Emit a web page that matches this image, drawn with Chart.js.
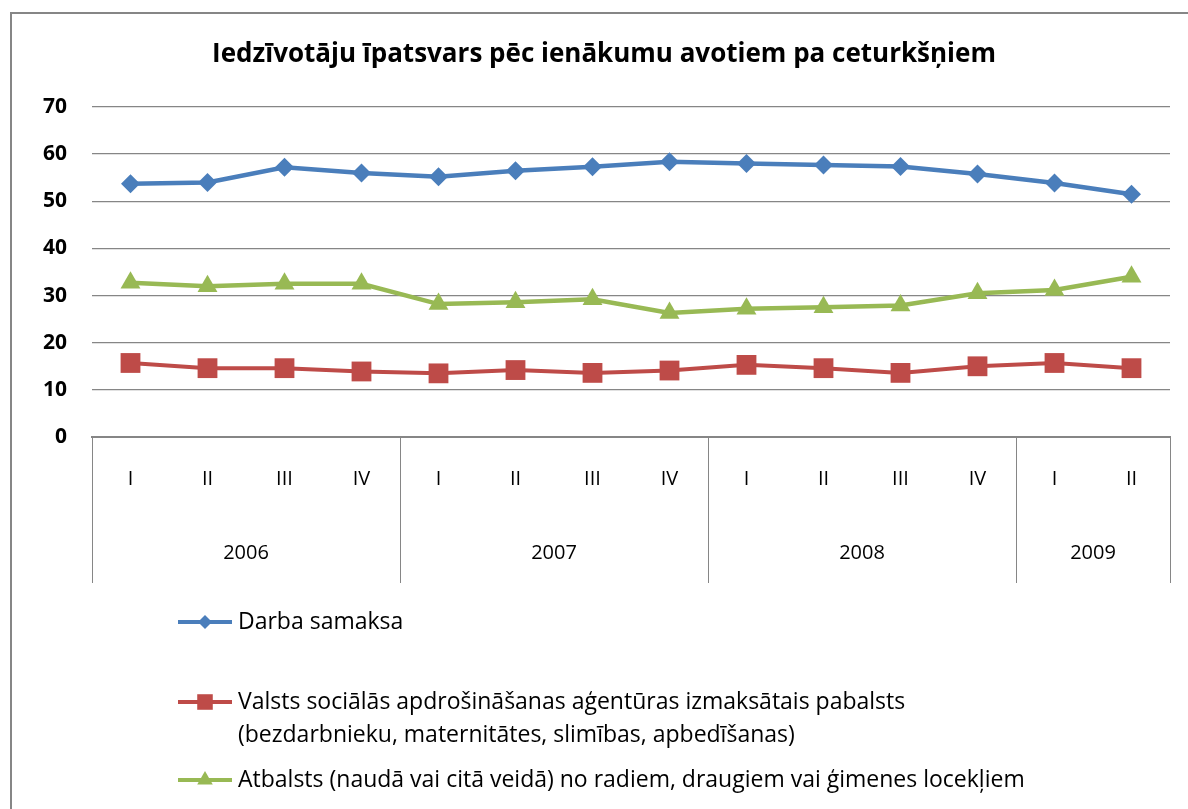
<!DOCTYPE html>
<html>
<head>
<meta charset="utf-8">
<script src="https://cdn.jsdelivr.net/npm/chart.js@4/dist/chart.umd.min.js"></script>
<style>
  body { margin: 0; background: #fff; overflow: hidden; }
  #wrap { width: 1188px; height: 809px; }
</style>
</head>
<body>
<div id="wrap"><canvas id="myChart" width="1188" height="809"></canvas></div>
<script>
// dati no attēla (nolasīti aptuveni)
const ceturksni = ["I", "II", "III", "IV", "I", "II", "III", "IV", "I", "II", "III", "IV", "I", "II"];
const gadi = ["2006", "2007", "2008", "2009"];
const gadaCeturksni = [4, 4, 4, 2]; // cik ceturkšņu katrā gadā
const darbaSamaksa = [53.7, 54.0, 57.2, 56.0, 55.2, 56.5, 57.3, 58.4, 58.0, 57.7, 57.4, 55.8, 53.9, 51.5];
const pabalsts = [15.7, 14.6, 14.6, 13.9, 13.5, 14.2, 13.6, 14.1, 15.3, 14.6, 13.6, 15.0, 15.7, 14.6];
const atbalsts = [32.7, 32.0, 32.5, 32.5, 28.2, 28.6, 29.2, 26.3, 27.2, 27.5, 27.9, 30.5, 31.2, 34.0];
const yTicks = [0, 10, 20, 30, 40, 50, 60, 70];
const nosaukums = "Iedzīvotāju īpatsvars pēc ienākumu avotiem pa ceturkšņiem";
const legendaTeksti = [
  ["Darba samaksa"],
  ["Valsts sociālās apdrošināšanas aģentūras izmaksātais pabalsts", "(bezdarbnieku, maternitātes, slimības, apbedīšanas)"],
  ["Atbalsts (naudā vai citā veidā) no radiem, draugiem vai ģimenes locekļiem"]
];

const fonts = "'Open Sans', 'Noto Sans', sans-serif";

// rāmis ap visu diagrammu un virsraksts
const ramisPlugin = {
  id: "ramis",
  beforeDraw(chart) {
    const ctx = chart.ctx;
    ctx.save();
    ctx.fillStyle = "#fff";
    ctx.fillRect(0, 0, chart.width, chart.height);
    ctx.strokeStyle = "#868686";
    ctx.lineWidth = 2;
    ctx.strokeRect(11, 13, 1400, 1000);
    ctx.fillStyle = "#000";
    ctx.font = "bold 26px " + fonts;
    ctx.textAlign = "center";
    ctx.textBaseline = "middle";
    ctx.fillText(nosaukums, 604, 55);
    ctx.restore();
  }
};

// gadu līnijas un gadu nosaukumi zem ceturkšņiem
const gadiPlugin = {
  id: "gadi",
  afterDraw(chart) {
    const ctx = chart.ctx;
    const x = chart.scales.x;
    const top = chart.chartArea.bottom;
    const bottom = top + 146;
    ctx.save();
    ctx.strokeStyle = "#868686";
    ctx.lineWidth = 1;
    let start = 0;
    const robezas = [-0.5];
    gadaCeturksni.forEach(n => { start += n; robezas.push(start - 0.5); });
    robezas.forEach(v => {
      const px = Math.round(x.getPixelForValue(v)) + 0.5;
      ctx.beginPath();
      ctx.moveTo(px, top);
      ctx.lineTo(px, bottom);
      ctx.stroke();
    });
    ctx.fillStyle = "#000";
    ctx.font = "20px " + fonts;
    ctx.textAlign = "center";
    ctx.textBaseline = "middle";
    start = 0;
    gadi.forEach((g, i) => {
      const mid = start + gadaCeturksni[i] / 2 - 0.5;
      ctx.fillText(g, x.getPixelForValue(mid), 553);
      start += gadaCeturksni[i];
    });
    ctx.restore();
  }
};

// leģenda zem diagrammas
const legendaPlugin = {
  id: "legenda",
  afterDraw(chart) {
    const ctx = chart.ctx;
    const rindas = [622, 702, 780];
    ctx.save();
    chart.data.datasets.forEach((ds, i) => {
      const y = rindas[i];
      ctx.strokeStyle = ds.borderColor;
      ctx.lineWidth = 4;
      ctx.beginPath();
      ctx.moveTo(178, y);
      ctx.lineTo(232, y);
      ctx.stroke();
      ctx.fillStyle = ds.backgroundColor;
      Chart.helpers.drawPoint(ctx, { pointStyle: ds.pointStyle, radius: ds.legendRadius, rotation: 0, borderWidth: 0 }, 205, y);
      ctx.fillStyle = "#000";
      ctx.font = "23px " + fonts;
      ctx.textAlign = "left";
      ctx.textBaseline = "middle";
      legendaTeksti[i].forEach((t, j) => ctx.fillText(t, 238, y + j * 33));
    });
    ctx.restore();
  }
};

const data = {
  labels: ceturksni,
  datasets: [
    {
      label: legendaTeksti[0].join(" "),
      data: darbaSamaksa,
      borderColor: "#4A7EBB",
      backgroundColor: "#4A7EBB",
      borderWidth: 4.5,
      pointStyle: "rectRot",
      pointRadius: 9.5,
      legendRadius: 7,
      pointBorderWidth: 0
    },
    {
      label: legendaTeksti[1].join(" "),
      data: pabalsts,
      borderColor: "#BE4B48",
      backgroundColor: "#BE4B48",
      borderWidth: 4,
      pointStyle: "rect",
      pointRadius: 14,
      legendRadius: 11,
      pointBorderWidth: 0
    },
    {
      label: legendaTeksti[2].join(" "),
      data: atbalsts,
      borderColor: "#98B954",
      backgroundColor: "#98B954",
      borderWidth: 4.5,
      pointStyle: "triangle",
      pointRadius: 11.5,
      legendRadius: 9,
      pointBorderWidth: 0
    }
  ]
};

const config = {
  type: "line",
  data,
  options: {
    responsive: false,
    animation: false,
    layout: { padding: { left: 0, right: 18, top: 107, bottom: 226 } },
    plugins: {
      legend: { display: false },
      tooltip: { enabled: false },
      title: { display: false }
    },
    scales: {
      x: {
        type: "category",
        offset: true,
        grid: { display: false },
        border: { display: true, color: "#868686", width: 2 },
        ticks: { color: "#000", font: { family: fonts, size: 20 }, padding: 22, autoSkip: false, maxRotation: 0 },
        afterFit(scale) { scale.height = 146; }
      },
      y: {
        min: 0,
        max: 70,
        afterBuildTicks(scale) { scale.ticks = yTicks.map(v => ({ value: v })); },
        grid: { color: "#868686", lineWidth: 1.3, drawTicks: false },
        border: { display: false },
        ticks: { color: "#000", font: { family: fonts, size: 21, weight: "bold" }, padding: 25 },
        afterFit(scale) { scale.width = 92; }
      }
    }
  },
  plugins: [ramisPlugin, gadiPlugin, legendaPlugin]
};

const myChart = new Chart(document.getElementById("myChart"), config);
</script>
</body>
</html>
